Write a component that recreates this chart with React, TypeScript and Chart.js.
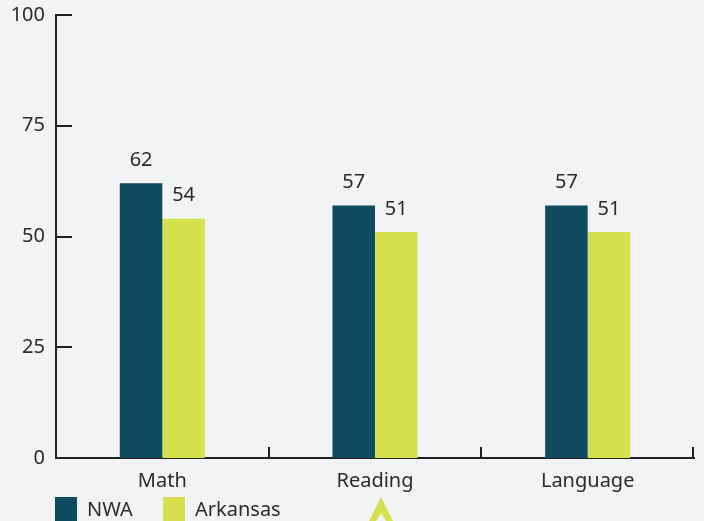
import React, { useEffect, useRef } from "react";
import { Chart, registerables } from "chart.js";

Chart.register(...registerables);

const categories = ["Math", "Reading", "Language"];
const nwaValues = [62, 57, 57];
const arkansasValues = [54, 51, 51];
const seriesLabels = ["NWA", "Arkansas"];
const yTicks = [0, 25, 50, 75, 100];

const NWA_COLOR = "#0f4a5e";
const AR_COLOR = "#d4e04c";
const BG = "#f2f3f5";
const TEXT = "#2b2b2b";
const AXIS = "#231f20";
const FONT = "'Noto Sans', sans-serif";
const FS = 20;

const decorPlugin = {
  id: "decor",
  beforeDraw(chart: any) {
    const ctx = chart.ctx;
    ctx.save();
    ctx.fillStyle = BG;
    ctx.fillRect(0, 0, chart.width, chart.height);
    ctx.restore();
  },
  afterDraw(chart: any) {
    const ctx = chart.ctx;
    const area = chart.chartArea;
    const xs = chart.scales.x;
    const ys = chart.scales.y;
    ctx.save();
    ctx.strokeStyle = AXIS;
    ctx.lineWidth = 2;
    yTicks.forEach((v) => {
      if (v === 0) return;
      const y = Math.round(ys.getPixelForValue(v));
      ctx.beginPath();
      ctx.moveTo(area.left, y);
      ctx.lineTo(area.left + 16, y);
      ctx.stroke();
    });
    const n = categories.length;
    for (let i = 0; i < n; i++) {
      let bx;
      if (i < n - 1) bx = (xs.getPixelForTick(i) + xs.getPixelForTick(i + 1)) / 2;
      else bx = area.right - 1;
      bx = Math.round(bx);
      ctx.beginPath();
      ctx.moveTo(bx, area.bottom);
      ctx.lineTo(bx, area.bottom - 11);
      ctx.stroke();
    }
    ctx.fillStyle = TEXT;
    ctx.font = `${FS}px ${FONT}`;
    ctx.textAlign = "center";
    ctx.textBaseline = "middle";
    chart.data.datasets.forEach((ds: any, di: number) => {
      const meta = chart.getDatasetMeta(di);
      meta.data.forEach((el: any, i: number) => {
        ctx.fillText(String(ds.data[i]), el.x, el.y - 23);
      });
    });
    const legendX = [55, 163];
    chart.data.datasets.forEach((ds: any, di: number) => {
      const lx = legendX[di];
      ctx.fillStyle = ds.backgroundColor;
      ctx.fillRect(lx, 497, 22, 24);
      ctx.fillStyle = TEXT;
      ctx.textAlign = "left";
      ctx.fillText(ds.label, lx + 32, 510);
    });
    const ax = Math.round(xs.getPixelForTick(1)) + 6;
    ctx.fillStyle = AR_COLOR;
    ctx.beginPath();
    ctx.moveTo(ax, 497);
    ctx.lineTo(ax + 12, 521);
    ctx.lineTo(ax + 5, 521);
    ctx.lineTo(ax, 513);
    ctx.lineTo(ax - 5, 521);
    ctx.lineTo(ax - 12, 521);
    ctx.closePath();
    ctx.fill();
    ctx.restore();
  },
};

export default function App() {
  const ref = useRef<HTMLCanvasElement>(null);
  useEffect(() => {
    document.body.style.margin = "0";
    const chart = new Chart(ref.current!, {
      type: "bar",
      data: {
        labels: categories,
        datasets: [
          { label: seriesLabels[0], data: nwaValues, backgroundColor: NWA_COLOR, categoryPercentage: 0.4, barPercentage: 1 },
          { label: seriesLabels[1], data: arkansasValues, backgroundColor: AR_COLOR, categoryPercentage: 0.4, barPercentage: 1 },
        ],
      },
      options: {
        responsive: false,
        animation: false,
        devicePixelRatio: 1,
        layout: { padding: { top: 15, right: 10, left: 0, bottom: 0 } },
        plugins: { legend: { display: false }, tooltip: { enabled: false } },
        scales: {
          x: {
            grid: { display: false, drawTicks: false },
            border: { display: true, color: AXIS, width: 2 },
            ticks: { color: TEXT, font: { family: FONT, size: FS }, padding: 11 },
            afterFit: (s: any) => { s.height = 63; s.paddingLeft = 0; s.paddingRight = 0; },
          },
          y: {
            min: 0,
            max: 100,
            grid: { display: false, drawTicks: false },
            border: { display: true, color: AXIS, width: 2 },
            ticks: { stepSize: 25, color: TEXT, font: { family: FONT, size: FS }, padding: 11 },
            afterFit: (s: any) => { s.width = 56; s.paddingTop = 0; s.paddingBottom = 0; },
          },
        },
      },
      plugins: [decorPlugin],
    });
    return () => chart.destroy();
  }, []);
  return (
    <div style={{ position: "absolute", left: 0, top: 0, width: 704, height: 521, background: BG }}>
      <canvas ref={ref} width={704} height={521} style={{ display: "block" }} />
    </div>
  );
}
